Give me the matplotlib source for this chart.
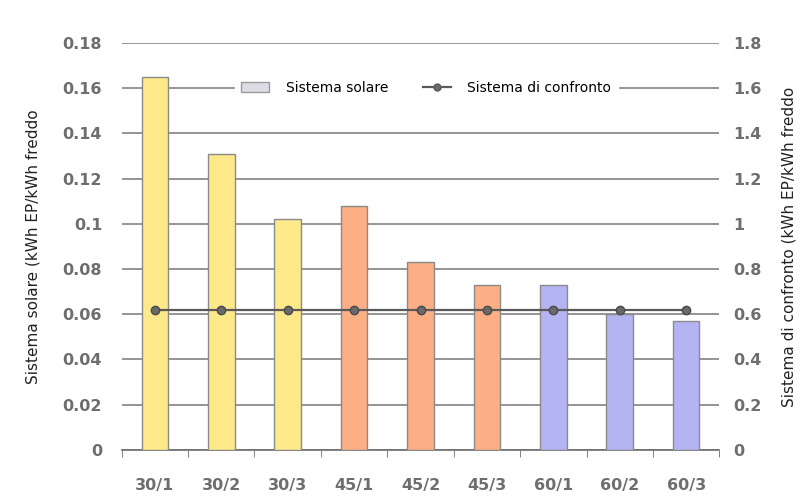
import numpy as np
import matplotlib.pyplot as plt
from matplotlib.patches import Patch
from matplotlib.lines import Line2D

# Dati
categorie = ['30/1', '30/2', '30/3', '45/1', '45/2', '45/3', '60/1', '60/2', '60/3']
sistema_solare = [0.165, 0.131, 0.102, 0.108, 0.083, 0.073, 0.073, 0.060, 0.057]
sistema_confronto = [0.62, 0.62, 0.62, 0.62, 0.62, 0.62, 0.62, 0.62, 0.62]
colori = ['#fde98a'] * 3 + ['#fcae84'] * 3 + ['#b4b4f2'] * 3

tick_sx = [0, 0.02, 0.04, 0.06, 0.08, 0.1, 0.12, 0.14, 0.16, 0.18]
etichette_sx = ['0', '0.02', '0.04', '0.06', '0.08', '0.1', '0.12', '0.14', '0.16', '0.18']
tick_dx = [0, 0.2, 0.4, 0.6, 0.8, 1.0, 1.2, 1.4, 1.6, 1.8]
etichette_dx = ['0', '0.2', '0.4', '0.6', '0.8', '1', '1.2', '1.4', '1.6', '1.8']

grigio = '#6e6e6e'

fig = plt.figure(figsize=(8.11, 5.01), dpi=100)
ax = fig.add_axes([0.150, 0.102, 0.737, 0.812])
x = np.arange(len(categorie))

ax.bar(x, sistema_solare, width=0.4, color=colori, edgecolor='#8a8a8a', linewidth=1, zorder=3)
ax.set_xlim(-0.5, len(categorie) - 0.5)
ax.set_ylim(0, 0.18)
ax.set_yticks(tick_sx)
ax.set_yticklabels(etichette_sx)
ax.yaxis.grid(True, color='#8c8c8c', linewidth=1.3, zorder=0)
ax.set_axisbelow(True)

ax.set_xticks(x)
ax.set_xticklabels(categorie)
ax.tick_params(axis='x', length=0, pad=20, labelsize=11.5, labelcolor=grigio)
ax.set_xticks(np.arange(-0.5, len(categorie)), minor=True)
ax.tick_params(axis='x', which='minor', length=5, color=grigio, direction='out')
ax.tick_params(axis='y', length=0, pad=14, labelsize=11.5, labelcolor=grigio)
for lab in ax.get_xticklabels() + ax.get_yticklabels():
    lab.set_fontweight('bold')

for s in ['top', 'left', 'right']:
    ax.spines[s].set_visible(False)
ax.spines['bottom'].set_color(grigio)
ax.spines['bottom'].set_linewidth(1.2)

ax.set_ylabel('Sistema solare (kWh EP/kWh freddo', fontsize=11, color='#222222', labelpad=16)

ax2 = ax.twinx()
ax2.plot(x, sistema_confronto, color='#5a5a5a', linewidth=1.6, marker='o', markersize=6,
         markerfacecolor='#6a6a6a', markeredgecolor='#4a4a4a', zorder=4)
ax2.set_ylim(0, 1.8)
ax2.set_yticks(tick_dx)
ax2.set_yticklabels(etichette_dx)
ax2.tick_params(axis='y', length=0, pad=10, labelsize=11.5, labelcolor=grigio)
for lab in ax2.get_yticklabels():
    lab.set_fontweight('bold')
for s in ['top', 'left', 'right', 'bottom']:
    ax2.spines[s].set_visible(False)
ax2.set_ylabel('Sistema di confronto (kWh EP/kWh freddo', fontsize=11, color='#222222', labelpad=14)

handles = [Patch(facecolor='#dcdce6', edgecolor='#9a9a9a', label='Sistema solare'),
           Line2D([0], [0], color='#5a5a5a', linewidth=1.6, marker='o', markersize=5,
                  markerfacecolor='#6a6a6a', label='Sistema di confronto')]
leg = ax2.legend(handles=handles, loc='upper center', bbox_to_anchor=(0.51, 0.925), ncol=2,
                 frameon=True, fontsize=10, handlelength=2.0, handletextpad=1.2,
                 columnspacing=2.5, borderpad=0.5, borderaxespad=0)
leg.get_frame().set_facecolor('white')
leg.get_frame().set_edgecolor('white')
leg.get_frame().set_alpha(1)

fig.savefig('out.png', dpi=100)
